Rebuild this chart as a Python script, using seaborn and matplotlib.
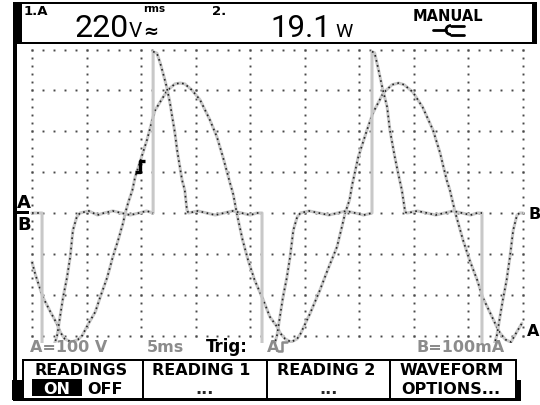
import numpy as np
import pandas as pd
import seaborn as sns
import matplotlib.pyplot as plt
from matplotlib.patches import Rectangle, Arc

# --- readings taken off the scope screen ---
# time in ms (5 ms/div), channel A in V and channel B in mA (both 100 per div)
volt_t = [0.0, 0.3, 1.0, 1.65, 2.3, 2.6, 3.0, 3.6, 4.2, 4.6, 5.15, 5.8, 6.25, 6.9,
          7.4, 7.9, 8.35, 8.55, 8.8, 9.2, 9.45, 10.1, 10.55, 11.25, 11.75, 12.4,
          13.1, 13.6, 14.0, 14.65, 15.4, 16.3, 16.95, 17.5, 18.15, 18.45, 18.8,
          19.3, 19.8, 20.4, 21.2, 21.8, 22.5, 22.75, 23.2, 23.75, 24.3, 24.6,
          25.5, 26.4, 27.1, 27.95, 28.4, 28.7, 29.1, 29.35, 29.9, 30.7, 31.25,
          32.2, 33.0, 33.6, 34.1, 34.9, 35.8, 36.75, 37.4, 38.0, 38.3, 38.8,
          39.5, 40.1, 40.8, 41.3, 42.0, 42.6, 42.9, 43.4, 43.9, 44.45, 44.9]
volt_v = [-120, -150, -206, -240, -272, -292, -308, -316, -310, -300, -272, -242,
          -206, -157, -108, -66, -24, 0, 24, 56, 88, 142, 180, 250, 272, 300,
          316, 318, 316, 301, 277, 228, 186, 137, 73, 45, -5,
          -66, -115, -164, -213, -254, -280, -294, -308, -316, -308, -296,
          -245, -188, -139, -83, -34, 0, 32, 70, 137, 203, 245,
          294, 314, 318, 314, 296, 259, 203, 147, 81, 56, 0,
          -66, -115, -164, -206, -245, -279, -294, -310, -316, -290, -270]

curr_t = [0.0, 0.5, 0.92, 0.92, 1.6, 2.3, 2.85, 3.2, 3.5, 3.75, 4.1, 4.4, 5.2,
          6.0, 6.6, 7.4, 8.2, 9.0, 9.8, 10.5, 11.1, 11.1, 11.45, 11.75, 12.0,
          12.35, 12.65, 12.85, 13.1, 13.3, 13.55, 13.75, 14.0, 14.2, 14.35, 15.2,
          16.0, 16.8, 17.6, 18.4, 19.2, 20.0, 20.6, 21.08, 21.08, 21.8, 22.45,
          23.0, 23.35, 23.65, 23.95, 24.3, 24.6, 25.4, 26.3, 27.2, 28.0, 28.8,
          29.6, 30.4, 31.16, 31.16, 31.4, 31.7, 32.1, 32.55, 32.8, 33.25, 33.55,
          33.9, 34.2, 34.4, 35.3, 36.2, 37.0, 37.8, 38.6, 39.4, 40.2, 40.8,
          41.24, 41.24, 41.95, 42.6, 43.15, 43.5, 43.8, 44.1, 44.45, 44.7, 45.0]
curr_a = [0, 0, 0, -395, -360, -300, -206, -159, -108, -42, -10, 0, 5,
          -5, 0, 5, 0, -5, 0, 5, 0, 395, 391, 367, 343,
          308, 269, 235, 196, 154, 113, 81, 56, 7, 0, 5,
          0, -5, 0, 5, 0, -5, 0, 0, -395, -360, -300,
          -206, -159, -108, -42, -10, 0, 5, 0, -5, 0, 5,
          0, -5, 0, 395, 392, 357, 308, 259, 203, 137, 98,
          56, 2, 0, 5, 0, -5, 0, 5, 0, -5, 0,
          0, -395, -360, -300, -213, -164, -108, -42, -5, 0, 0]

trig_t, trig_level = 9.9, 100

reading_1 = ("1.A", "220", "V")
reading_2 = ("2.", "19.1", "W")
scale_a = "A=100 V"
scale_time = "5ms"
scale_b = "B=100mA"
softkey_top = ["READINGS", "READING 1", "READING 2", "WAVEFORM"]
softkey_bottom = ["", "...", "...", "OPTIONS..."]

assert len(volt_t) == len(volt_v) and len(curr_t) == len(curr_a)

sns.set_theme(style="white")
plt.rcParams["font.family"] = ["DejaVu Sans"]

W, H = 540, 405
fig = plt.figure(figsize=(5.4, 4.05), dpi=100, facecolor="white")


def box(x0, y0, x1, y1):
    # pixel box (top-left origin) -> figure fraction rect
    return [x0 / W, 1 - y1 / H, (x1 - x0) / W, (y1 - y0) / H]


# -----------------------
# scope trace area
# -----------------------
ax = fig.add_axes(box(17, 44, 527, 343))
ms_px = 45 / (523 - 32)
u_px = 100 / 40.86
ax.set_xlim(-(32 - 17) * ms_px, 45 + (527 - 523) * ms_px)
ax.set_ylim(-(343 - 213) * u_px, (213 - 44) * u_px)
ax.set_axis_off()

# dotted graticule, 5 dots per division
dot_kw = dict(ls="none", marker="s", ms=1.4, mec="none", mfc="#484848")
for gx in np.arange(0, 46, 5):
    ys = np.arange(-300, 401, 20, dtype=float)
    ax.plot(np.full_like(ys, gx), ys, **dot_kw)
for gy in np.arange(-300, 401, 100):
    xs = np.arange(0, 45.1, 1.0)
    ax.plot(xs, np.full_like(xs, gy), **dot_kw)


def break_steps(t, v):
    # dark sample dots are not drawn along vertical jumps
    tt, vv = [t[0]], [v[0]]
    for i in range(1, len(t)):
        if t[i] == t[i - 1]:
            tt.append(np.nan)
            vv.append(np.nan)
        tt.append(t[i])
        vv.append(v[i])
    return tt, vv


df_a = pd.DataFrame({"t": volt_t, "val": volt_v})
df_b = pd.DataFrame({"t": curr_t, "val": curr_a})
for df in (df_a, df_b):
    sns.lineplot(data=df, x="t", y="val", estimator=None, sort=False,
                 color="#c8c8c8", linewidth=2.2, ax=ax)
    tt, vv = break_steps(df["t"].tolist(), df["val"].tolist())
    ax.plot(tt, vv, color="#222222", lw=1.2, ls=(0, (1.0, 2.1)))

# trigger symbol
ax.plot([trig_t - 0.45, trig_t, trig_t, trig_t + 0.5],
        [trig_level, trig_level, trig_level + 27, trig_level + 27],
        color="black", lw=2.4, solid_capstyle="butt")
ax.set_xlabel("")
ax.set_ylabel("")

# -----------------------
# screen furniture drawn in pixel space
# -----------------------
ov = fig.add_axes([0, 0, 1, 1], zorder=5)
ov.set_xlim(0, W)
ov.set_ylim(H, 0)
ov.set_axis_off()
ov.patch.set_alpha(0)


def rect(x0, y0, x1, y1, color="black"):
    ov.add_patch(Rectangle((x0, y0), x1 - x0, y1 - y0, color=color, lw=0))


# header frame
rect(13, 2, 537, 4)
rect(13, 2, 22, 44)
rect(532, 2, 537, 44)
rect(13, 42, 537, 44)
rect(13, 44, 17, 400)

bold = dict(fontweight="bold", color="black", va="baseline", ha="left")
lcd = dict(family="Roboto", fontweight="normal", color="black", va="baseline", ha="left")

ov.text(24, 15, reading_1[0], fontsize=9.5, **bold)
ov.text(74, 37, reading_1[1], fontsize=23, **lcd)
ov.text(129, 37, reading_1[2], fontsize=15, **lcd)
ov.text(143, 12, "rms", fontsize=7.5, **bold)
ov.text(143, 37, "\u2248", fontsize=13, **bold)
ov.text(212, 15, reading_2[0], fontsize=9.5, **bold)
ov.text(270, 37, reading_2[1], fontsize=22.5, **lcd)
ov.text(335, 37, reading_2[2], fontsize=14, **lcd)
ov.text(413, 21, "MANUAL", fontsize=10.5, **bold)

# mains plug icon
ov.plot([433, 446], [30, 30], color="black", lw=2)
ov.add_patch(Arc((451, 30), 10, 9, theta1=90, theta2=270, color="black", lw=2))
ov.plot([451, 464], [25.5, 25.5], color="black", lw=2)
ov.plot([451, 464], [34.5, 34.5], color="black", lw=2)

# channel markers
ov.text(17, 208, "A", fontsize=13, **bold)
rect(17, 210.5, 29, 213.5)
ov.text(17, 230, "B", fontsize=13, **bold)
ov.text(528, 219, "B", fontsize=11.5, **bold)
ov.text(527, 336, "A", fontsize=11.5, **bold)

# scale line
grey = dict(fontweight="bold", color="#8c8c8c", va="baseline", ha="left")
ov.text(30, 352, scale_a, fontsize=11.5, **grey)
ov.text(147, 352, scale_time, fontsize=11.5, **grey)
ov.text(206, 352, "Trig:", fontsize=12, **bold)
ov.text(267, 352, "A", fontsize=11.5, **grey)
ov.plot([278, 282, 282, 287], [351, 351, 342, 342], color="#8c8c8c", lw=1.8)
ov.text(417, 352, scale_b, fontsize=11.5, **grey)

# softkey bar
rect(22, 359, 517, 361)
for sx in (22, 142, 266, 389, 515):
    rect(sx, 359, sx + 2, 400)
rect(12, 380, 23, 400)
rect(515, 380, 521, 400)
rect(13, 398, 521, 401)

key_left = [35, 152, 277, 400]
key_mid = [82, 205, 329, 453]
for i, label in enumerate(softkey_top):
    ov.text(key_left[i], 375, label, fontsize=11.5, **bold)
    if softkey_bottom[i] == "...":
        ov.text(key_mid[i], 394, softkey_bottom[i], fontsize=11.5,
                fontweight="bold", ha="center", va="baseline")
    elif softkey_bottom[i]:
        ov.text(key_left[i] + 1, 394, softkey_bottom[i], fontsize=11.5, **bold)

rect(32, 379, 82, 396)
ov.text(57, 394, "ON", fontsize=11.5, fontweight="bold", color="white",
        ha="center", va="baseline")
ov.text(87, 394, "OFF", fontsize=11.5, **bold)

fig.savefig("out.png", dpi=100, facecolor="white")
